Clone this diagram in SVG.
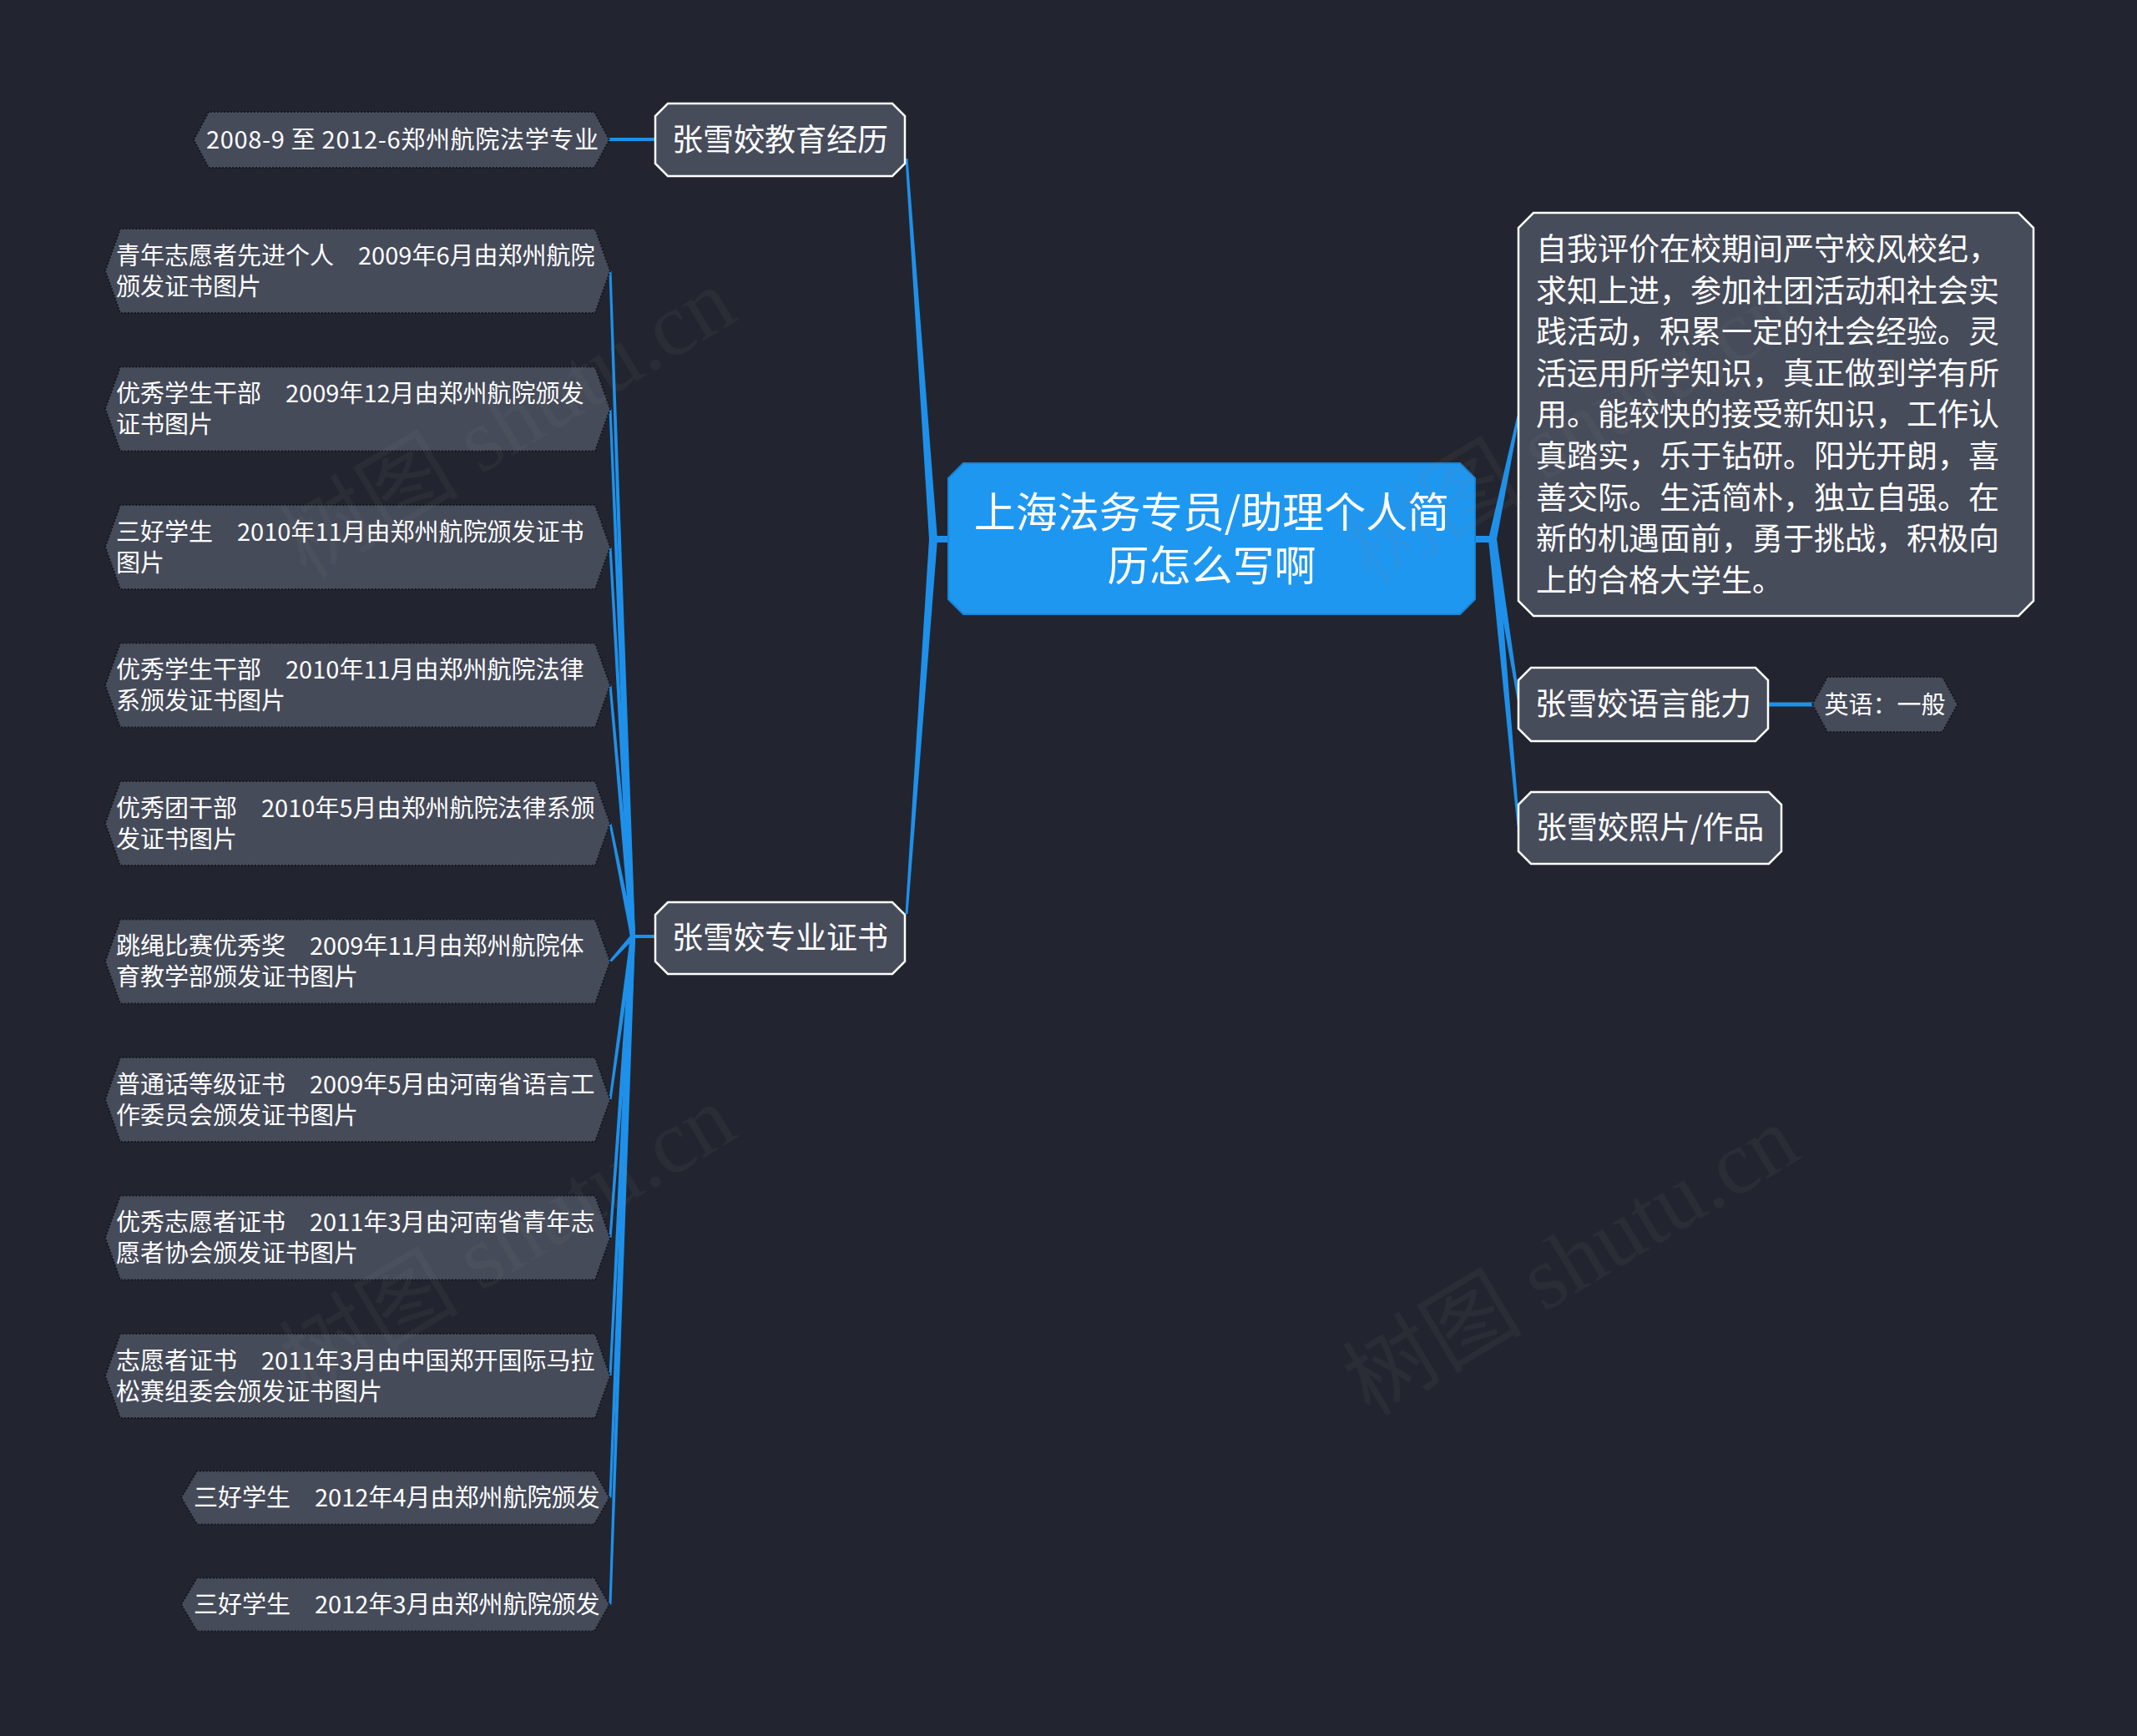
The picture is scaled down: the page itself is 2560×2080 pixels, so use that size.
<svg xmlns="http://www.w3.org/2000/svg" width="2560" height="2080" viewBox="0 0 2560 2080">
<style>
.bg{fill:#22252f}
.con{fill:#1e90ea}
.stub{stroke:#1e90ea;fill:none}
.main{fill:#474c5b;stroke:#ffffff;stroke-width:2.5}
.root{fill:#1e97f1;stroke:#1884d8;stroke-width:2}
.leaf{fill:#464b5a;stroke:#14161c;stroke-width:2;stroke-dasharray:2 2}
text{font-family:"Noto Sans CJK SC","Microsoft YaHei",sans-serif;fill:#ffffff}
.t37{font-size:37px}
.t50{font-size:50px}
.t29{font-size:29px}
.wm{font-family:"Liberation Serif","Noto Sans CJK SC",serif;font-size:108px;fill:#8a8a8a;opacity:0.08}
</style>
<rect class="bg" x="0" y="0" width="2560" height="2080"/>
<g id="connectors">
<line class="stub" x1="1116" y1="646" x2="1138" y2="646" stroke-width="8"/>
<line class="stub" x1="1765" y1="646" x2="1790" y2="646" stroke-width="8"/>
<line class="stub" x1="756" y1="1122" x2="787" y2="1122" stroke-width="4"/>
<line class="stub" x1="729" y1="167" x2="787" y2="167" stroke-width="4"/>
<line class="stub" x1="2116" y1="844" x2="2174" y2="844" stroke-width="5"/>
<polygon class="con" points="1113,646 1084.5,190 1087.5,190 1123,646"/>
<polygon class="con" points="1113,646 1084.5,1095 1087.5,1095 1123,646"/>
<polygon class="con" points="1783,646 1817.5,498 1820.5,498 1793,646"/>
<polygon class="con" points="1783,646 1817.5,838 1820.5,838 1793,646"/>
<polygon class="con" points="1783,646 1817.5,990 1820.5,990 1793,646"/>
<polygon class="con" points="755,1122 729.5,324.5 732.5,324.5 761,1122"/>
<polygon class="con" points="755,1122 729.5,490 732.5,490 761,1122"/>
<polygon class="con" points="755,1122 729.5,655.5 732.5,655.5 761,1122"/>
<polygon class="con" points="755,1122 729.5,821 732.5,821 761,1122"/>
<polygon class="con" points="755,1122 729.5,986.5 732.5,986.5 761,1122"/>
<polygon class="con" points="755.8,1120 729.9,1151 732.1,1153 760.2,1124"/>
<polygon class="con" points="755,1122 729.5,1317.5 732.5,1317.5 761,1122"/>
<polygon class="con" points="755,1122 729.5,1483 732.5,1483 761,1122"/>
<polygon class="con" points="755,1122 729.5,1648.5 732.5,1648.5 761,1122"/>
<polygon class="con" points="755,1122 729.5,1794.5 732.5,1794.5 761,1122"/>
<polygon class="con" points="755,1122 729.5,1922.5 732.5,1922.5 761,1122"/>
</g>
<g id="root">
<polygon class="root" points="1154,555 1749,555 1767,573 1767,718 1749,736 1154,736 1136,718 1136,573"/>
<text class="t50" x="1451.5" y="632" text-anchor="middle">上海法务专员/助理个人简</text>
<text class="t50" x="1451.5" y="696" text-anchor="middle">历怎么写啊</text>
</g>
<g id="edu">
<polygon class="main" points="800,124 1069,124 1084,139 1084,196 1069,211 800,211 785,196 785,139"/>
<text class="t37" x="934.5" y="180.5" text-anchor="middle">张雪姣教育经历</text>
</g>
<g id="edu-leaf">
<polygon class="leaf" points="232,167.5 250,134 712,134 730,167.5 712,201 250,201"/>
<text class="t29" x="247" y="178" textLength="470" lengthAdjust="spacing">2008-9 至 2012-6郑州航院法学专业</text>
</g>
<g id="cert">
<polygon class="main" points="800,1081 1069,1081 1084,1096 1084,1152 1069,1167 800,1167 785,1152 785,1096"/>
<text class="t37" x="934.5" y="1137" text-anchor="middle">张雪姣专业证书</text>
</g>
<g id="leaf1">
<polygon class="leaf" points="126,324.5 144,274 713,274 731,324.5 713,375 144,375"/>
<text class="t29" x="139" y="316.5">青年志愿者先进个人　2009年6月由郑州航院</text>
<text class="t29" x="139" y="353.5">颁发证书图片</text>
</g>
<g id="leaf2">
<polygon class="leaf" points="126,490 144,439.5 713,439.5 731,490 713,540.5 144,540.5"/>
<text class="t29" x="139" y="482">优秀学生干部　2009年12月由郑州航院颁发</text>
<text class="t29" x="139" y="519">证书图片</text>
</g>
<g id="leaf3">
<polygon class="leaf" points="126,655.5 144,605 713,605 731,655.5 713,706 144,706"/>
<text class="t29" x="139" y="647.5">三好学生　2010年11月由郑州航院颁发证书</text>
<text class="t29" x="139" y="684.5">图片</text>
</g>
<g id="leaf4">
<polygon class="leaf" points="126,821 144,770.5 713,770.5 731,821 713,871.5 144,871.5"/>
<text class="t29" x="139" y="813">优秀学生干部　2010年11月由郑州航院法律</text>
<text class="t29" x="139" y="850">系颁发证书图片</text>
</g>
<g id="leaf5">
<polygon class="leaf" points="126,986.5 144,936 713,936 731,986.5 713,1037 144,1037"/>
<text class="t29" x="139" y="978.5">优秀团干部　2010年5月由郑州航院法律系颁</text>
<text class="t29" x="139" y="1015.5">发证书图片</text>
</g>
<g id="leaf6">
<polygon class="leaf" points="126,1152 144,1101.5 713,1101.5 731,1152 713,1202.5 144,1202.5"/>
<text class="t29" x="139" y="1144">跳绳比赛优秀奖　2009年11月由郑州航院体</text>
<text class="t29" x="139" y="1181">育教学部颁发证书图片</text>
</g>
<g id="leaf7">
<polygon class="leaf" points="126,1317.5 144,1267 713,1267 731,1317.5 713,1368 144,1368"/>
<text class="t29" x="139" y="1309.5">普通话等级证书　2009年5月由河南省语言工</text>
<text class="t29" x="139" y="1346.5">作委员会颁发证书图片</text>
</g>
<g id="leaf8">
<polygon class="leaf" points="126,1483 144,1432.5 713,1432.5 731,1483 713,1533.5 144,1533.5"/>
<text class="t29" x="139" y="1475">优秀志愿者证书　2011年3月由河南省青年志</text>
<text class="t29" x="139" y="1512">愿者协会颁发证书图片</text>
</g>
<g id="leaf9">
<polygon class="leaf" points="126,1648.5 144,1598 713,1598 731,1648.5 713,1699 144,1699"/>
<text class="t29" x="139" y="1640.5">志愿者证书　2011年3月由中国郑开国际马拉</text>
<text class="t29" x="139" y="1677.5">松赛组委会颁发证书图片</text>
</g>
<g id="leaf10">
<polygon class="leaf" points="217,1794.5 236,1762.5 712,1762.5 730,1794.5 712,1826.5 236,1826.5"/>
<text class="t29" x="232" y="1805">三好学生　2012年4月由郑州航院颁发</text>
</g>
<g id="leaf11">
<polygon class="leaf" points="217,1922.5 236,1890.5 712,1890.5 730,1922.5 712,1954.5 236,1954.5"/>
<text class="t29" x="232" y="1933">三好学生　2012年3月由郑州航院颁发</text>
</g>
<g id="desc">
<polygon class="main" points="1837,255 2418,255 2436,273 2436,720 2418,738 1837,738 1819,720 1819,273"/>
<text class="t37" x="1840" y="312">自我评价在校期间严守校风校纪，</text>
<text class="t37" x="1840" y="361.6">求知上进，参加社团活动和社会实</text>
<text class="t37" x="1840" y="411.2">践活动，积累一定的社会经验。灵</text>
<text class="t37" x="1840" y="460.8">活运用所学知识，真正做到学有所</text>
<text class="t37" x="1840" y="510.4">用。能较快的接受新知识，工作认</text>
<text class="t37" x="1840" y="560">真踏实，乐于钻研。阳光开朗，喜</text>
<text class="t37" x="1840" y="609.6">善交际。生活简朴，独立自强。在</text>
<text class="t37" x="1840" y="659.2">新的机遇面前，勇于挑战，积极向</text>
<text class="t37" x="1840" y="708.8">上的合格大学生。</text>
</g>
<g id="lang">
<polygon class="main" points="1834,800 2103,800 2118,815 2118,873 2103,888 1834,888 1819,873 1819,815"/>
<text class="t37" x="1968.5" y="857" text-anchor="middle">张雪姣语言能力</text>
</g>
<g id="lang-leaf">
<polygon class="leaf" points="2171,844 2189,811 2327,811 2345,844 2327,877 2189,877"/>
<text class="t29" x="2258" y="855" text-anchor="middle">英语：一般</text>
</g>
<g id="photo">
<polygon class="main" points="1834,949 2119,949 2134,964 2134,1020 2119,1035 1834,1035 1819,1020 1819,964"/>
<text class="t37" x="1976.5" y="1005" text-anchor="middle">张雪姣照片/作品</text>
</g>
<g id="watermarks">
<text class="wm" transform="translate(367,694) rotate(-31)">树图 shutu.cn</text>
<text class="wm" transform="translate(367,1673) rotate(-31)">树图 shutu.cn</text>
<text class="wm" transform="translate(1641,702) rotate(-31)">树图 shutu.cn</text>
<text class="wm" transform="translate(1641,1698) rotate(-31)">树图 shutu.cn</text>
</g>
</svg>
